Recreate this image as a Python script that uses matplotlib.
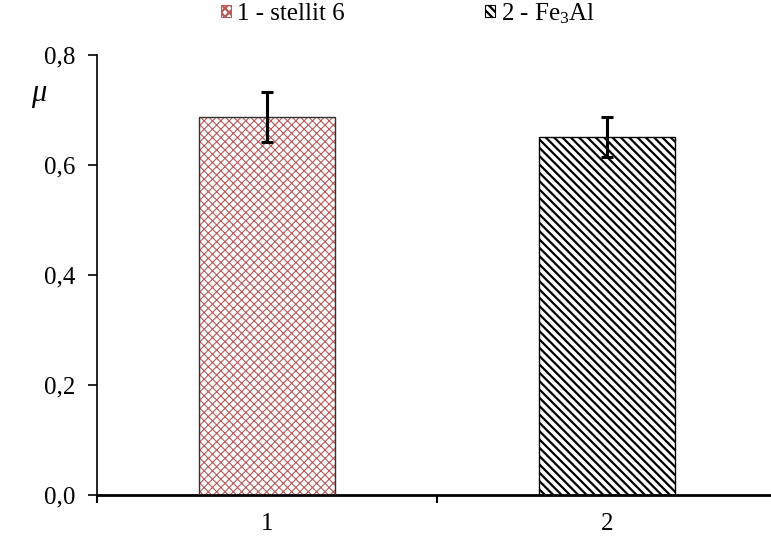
import matplotlib
matplotlib.use("Agg")
import matplotlib.pyplot as plt
from matplotlib.patches import Patch

plt.rcParams['font.family'] = ['Liberation Serif', 'DejaVu Serif']
plt.rcParams['mathtext.fontset'] = 'custom'
plt.rcParams['mathtext.rm'] = 'Liberation Serif'
plt.rcParams['mathtext.it'] = 'Liberation Serif:italic'

categories = ['1', '2']
labels = ['1 - stellit 6', '2 - Fe$_3$Al']
mu = [0.687, 0.651]
err_up = [0.046, 0.036]
err_down = [0.045, 0.036]

hatch_colors = ['#b85a5a', 'black']
hatches = ['xxxx', '\\\\\\\\']
hatch_widths = [0.8, 1.6]

fig = plt.figure(figsize=(7.71, 5.38), dpi=100)
ax = fig.add_axes([97 / 771, 43 / 538, 680 / 771, 440 / 538])

x = range(len(categories))
for i in x:
    plt.rcParams['hatch.linewidth'] = hatch_widths[i]
    ax.bar(i, mu[i], width=0.4, color='white', edgecolor=hatch_colors[i],
           hatch=hatches[i], linewidth=0, zorder=2)
    ax.bar(i, mu[i], width=0.4, fill=False, edgecolor='#333333' if i == 0 else 'black',
           linewidth=1.0, zorder=3)

ax.errorbar(list(x), mu, yerr=[err_down, err_up], fmt='none', ecolor='black',
            elinewidth=2.2, capsize=4, capthick=2.2, zorder=4)

ax.set_xlim(-0.5, 1.5)
ax.set_ylim(0, 0.8)
ax.set_yticks([0, 0.2, 0.4, 0.6, 0.8])
ax.set_yticklabels(['0,0', '0,2', '0,4', '0,6', '0,8'])
ax.set_xticks([0, 1])
ax.set_xticklabels(categories)
ax.set_xticks([-0.5, 0.5, 1.5], minor=True)
ax.tick_params(axis='x', which='major', length=0, pad=13, labelsize=18)
ax.tick_params(axis='x', which='minor', length=6, width=1.5, direction='out')
ax.tick_params(axis='y', length=6.5, width=1.2, direction='out', labelsize=18, pad=9)

for s in ['top', 'right']:
    ax.spines[s].set_visible(False)
ax.spines['left'].set_linewidth(1.2)
ax.spines['bottom'].set_linewidth(2)

fig.text(39 / 771, 1 - 96 / 538, r'$\mu$', fontsize=22, ha='center', va='center')

handles = []
for i in x:
    plt.rcParams['hatch.linewidth'] = hatch_widths[i]
    handles.append(Patch(facecolor='white', edgecolor=hatch_colors[i], hatch=hatches[i],
                         linewidth=0.8, label=labels[i]))
fig.legend(handles=handles, loc='upper left', bbox_to_anchor=(221 / 771, 1 - 1 / 538),
           borderaxespad=0, borderpad=0, ncol=2, frameon=False, fontsize=18,
           handlelength=0.4, handleheight=0.4, handletextpad=0.25, columnspacing=5.6)

fig.savefig('out.png', dpi=100)
